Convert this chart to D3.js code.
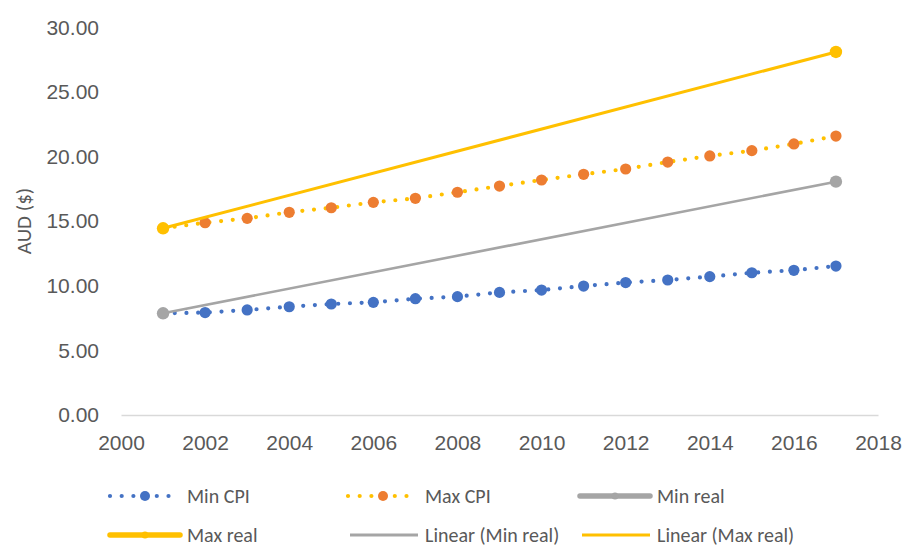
<!DOCTYPE html>
<html>
<head>
<meta charset="utf-8">
<script src="https://cdn.jsdelivr.net/npm/d3@7"></script>
<style>
  html, body { margin: 0; padding: 0; background: #fff; }
  svg { display: block; font-family: Carlito, Lato, "Open Sans", sans-serif; }
  .tick text { fill: #595959; }
</style>
</head>
<body>
<svg id="chart" width="904" height="549"></svg>
<script>
// Hourly rates, AUD
const years = [2001, 2002, 2003, 2004, 2005, 2006, 2007, 2008, 2009,
               2010, 2011, 2012, 2013, 2014, 2015, 2016, 2017];
const minCPI = [7.87, 7.93, 8.13, 8.38, 8.59, 8.72, 9.00, 9.16, 9.49,
                9.67, 9.98, 10.25, 10.45, 10.71, 11.01, 11.20, 11.53];
const maxCPI = [14.45, 14.88, 15.22, 15.69, 16.04, 16.46, 16.77, 17.24, 17.72,
                18.19, 18.63, 19.04, 19.58, 20.05, 20.46, 20.98, 21.59];
const realYears = [2001, 2017];
const minReal = [7.87, 18.06];
const maxReal = [14.45, 28.10];
const xTicks = [2000, 2002, 2004, 2006, 2008, 2010, 2012, 2014, 2016, 2018];
const yTicks = [0, 5, 10, 15, 20, 25, 30];

const BLUE = "#4472C4", ORANGE = "#ED7D31", GOLD = "#FFC000", GREY = "#A5A5A5";
const TEXT = "#595959";

const svg = d3.select("#chart");
const x = d3.scaleLinear().domain([2000, 2018]).range([121, 878]);
const y = d3.scaleLinear().domain([0, 30]).range([415, 27.4]);

// Axes
const yAxis = svg.append("g")
  .attr("transform", "translate(107,0)")
  .call(d3.axisLeft(y).tickValues(yTicks).tickFormat(d3.format(".2f")).tickSize(0).tickPadding(8));
yAxis.select(".domain").remove();
yAxis.selectAll("text").style("font-size", "21px");

const xAxis = svg.append("g")
  .attr("transform", "translate(0,415)")
  .call(d3.axisBottom(x).tickValues(xTicks).tickFormat(d3.format("d")).tickSize(0).tickPadding(20));
xAxis.select(".domain").attr("stroke", "#D9D9D9").attr("stroke-width", 1.5);
xAxis.selectAll("text").style("font-size", "21px");

svg.append("text")
  .attr("transform", "translate(24,221) rotate(-90)")
  .attr("text-anchor", "middle")
  .attr("dy", "0.35em")
  .attr("fill", TEXT)
  .style("font-size", "21px")
  .text("AUD ($)");

// Least-squares fit for trendlines
function linearFit(xs, ys) {
  const n = xs.length;
  const mx = d3.mean(xs), my = d3.mean(ys);
  let sxy = 0, sxx = 0;
  for (let i = 0; i < n; i++) { sxy += (xs[i] - mx) * (ys[i] - my); sxx += (xs[i] - mx) ** 2; }
  const b = sxy / sxx, a = my - b * mx;
  return xs.map(v => [v, a + b * v]);
}

const line = d3.line().x(d => x(d[0])).y(d => y(d[1]));
const plot = svg.append("g");

// CPI-indexed series: dotted lines with markers
function dottedSeries(vals, lineColor, markerColor) {
  const pts = years.map((yr, i) => [yr, vals[i]]);
  plot.append("path").datum(pts)
    .attr("d", line).attr("fill", "none")
    .attr("stroke", lineColor).attr("stroke-width", 4.2)
    .attr("stroke-linecap", "round").attr("stroke-dasharray", "0 11.7");
  plot.append("g").selectAll("circle").data(pts).join("circle")
    .attr("cx", d => x(d[0])).attr("cy", d => y(d[1])).attr("r", 5.6)
    .attr("fill", markerColor);
}
dottedSeries(minCPI, BLUE, BLUE);
dottedSeries(maxCPI, GOLD, ORANGE);

// Real series: trendline plus end markers
function realSeries(vals, color, width) {
  const pts = realYears.map((yr, i) => [yr, vals[i]]);
  plot.append("path").datum(linearFit(realYears, vals))
    .attr("d", line).attr("fill", "none")
    .attr("stroke", color).attr("stroke-width", width);
  plot.append("g").selectAll("circle").data(pts).join("circle")
    .attr("cx", d => x(d[0])).attr("cy", d => y(d[1])).attr("r", 6.2)
    .attr("fill", color);
}
realSeries(minReal, GREY, 2.6);
realSeries(maxReal, GOLD, 3);

// Legend
const legendItems = [
  { label: "Min CPI", kind: "dots", line: BLUE, marker: BLUE, col: 0, row: 0 },
  { label: "Max CPI", kind: "dots", line: GOLD, marker: ORANGE, col: 1, row: 0 },
  { label: "Min real", kind: "thick", line: GREY, marker: GREY, col: 2, row: 0 },
  { label: "Max real", kind: "thick", line: GOLD, marker: GOLD, col: 0, row: 1 },
  { label: "Linear (Min real)", kind: "thin", line: GREY, col: 1, row: 1 },
  { label: "Linear (Max real)", kind: "thin", line: GOLD, col: 2, row: 1 }
];
const colX = [110, 348, 580];
const rowY = [496, 535];
const symW = 70;

const lg = svg.append("g");
legendItems.forEach(it => {
  const g = lg.append("g").attr("transform", `translate(${colX[it.col]},${rowY[it.row]})`);
  if (it.kind === "dots") {
    g.append("line").attr("x1", 0).attr("x2", symW).attr("y1", 0).attr("y2", 0)
      .attr("stroke", it.line).attr("stroke-width", 4.2)
      .attr("stroke-linecap", "round").attr("stroke-dasharray", "0 11.7");
    g.append("circle").attr("cx", symW / 2).attr("cy", 0).attr("r", 5).attr("fill", it.marker);
  } else if (it.kind === "thick") {
    g.append("line").attr("x1", 0).attr("x2", symW).attr("y1", 0).attr("y2", 0)
      .attr("stroke", it.line).attr("stroke-width", 5.5).attr("stroke-linecap", "round");
    g.append("circle").attr("cx", symW / 2).attr("cy", 0).attr("r", 3.5).attr("fill", it.marker);
  } else {
    g.append("line").attr("x1", 2).attr("x2", symW).attr("y1", 0).attr("y2", 0)
      .attr("stroke", it.line).attr("stroke-width", 3);
  }
  g.append("text").attr("x", symW + 7).attr("y", 0).attr("dy", "0.35em")
    .attr("fill", TEXT).style("font-size", "20px").text(it.label);
});
</script>
</body>
</html>
